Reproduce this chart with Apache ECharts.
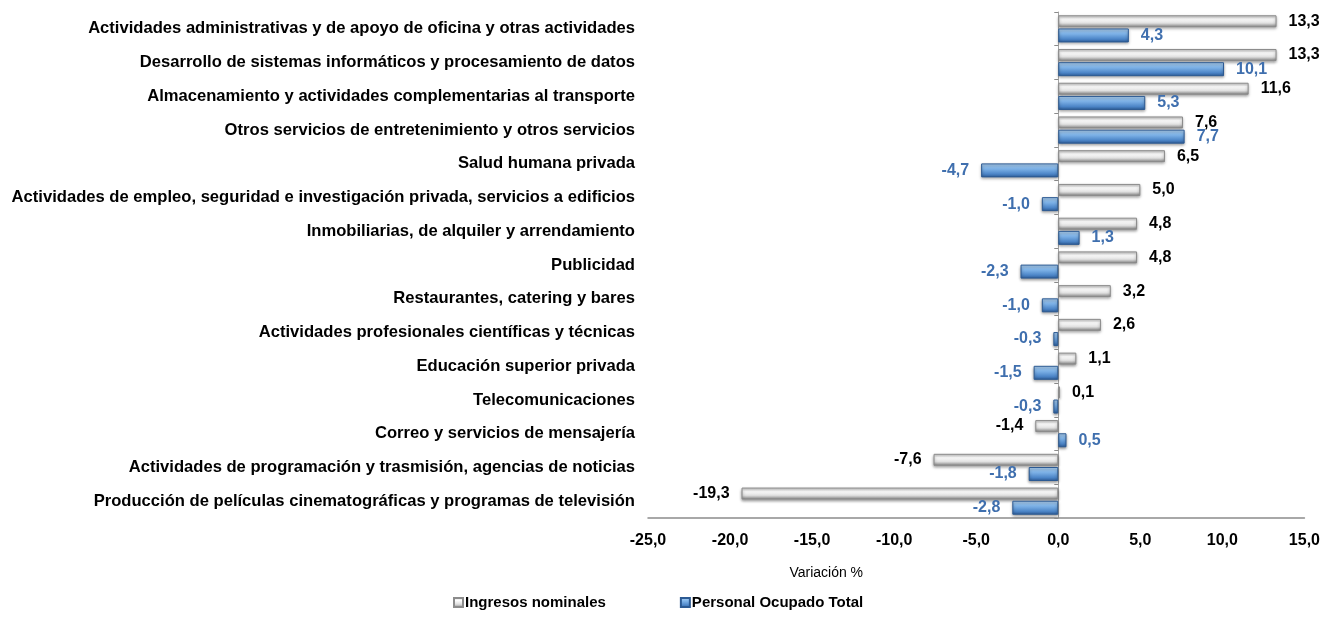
<!DOCTYPE html>
<html>
<head>
<meta charset="utf-8">
<script src="https://cdn.jsdelivr.net/npm/echarts@6/dist/echarts.min.js"></script>
<style>
  html, body { margin: 0; padding: 0; background: #fff; }
  #chart { width: 1323px; height: 620px; }
</style>
</head>
<body>
<div id="chart"></div>
<script>
// categorías de arriba hacia abajo
var categorias = [
    'Actividades administrativas y de apoyo de oficina y otras actividades',
    'Desarrollo de sistemas informáticos y procesamiento de datos',
    'Almacenamiento y actividades complementarias al transporte',
    'Otros servicios de entretenimiento y otros servicios',
    'Salud humana privada',
    'Actividades de empleo, seguridad e investigación privada, servicios a edificios',
    'Inmobiliarias, de alquiler y arrendamiento',
    'Publicidad',
    'Restaurantes, catering y bares',
    'Actividades profesionales científicas y técnicas',
    'Educación superior privada',
    'Telecomunicaciones',
    'Correo y servicios de mensajería',
    'Actividades de programación y trasmisión, agencias de noticias',
    'Producción de películas cinematográficas y programas de televisión'
];
var ingresos = [13.3, 13.3, 11.6, 7.6, 6.5, 5.0, 4.8, 4.8, 3.2, 2.6, 1.1, 0.1, -1.4, -7.6, -19.3];
var personal = [4.3, 10.1, 5.3, 7.7, -4.7, -1.0, 1.3, -2.3, -1.0, -0.3, -1.5, -0.3, 0.5, -1.8, -2.8];
var ejeMin = -25, ejeMax = 15, ejeIntervalo = 5;

function coma(v) { return v.toFixed(1).replace('.', ','); }

// cada valor con su etiqueta a la derecha o a la izquierda
function conEtiqueta(arr) {
    return arr.map(function (v) {
        return { value: v, label: { position: v < 0 ? 'left' : 'right' } };
    });
}

var fuente = 'Liberation Sans, Arial, sans-serif';

var grisBarra = new echarts.graphic.LinearGradient(0, 0, 0, 1, [
    { offset: 0, color: '#c8c8c8' },
    { offset: 0.3, color: '#ffffff' },
    { offset: 0.65, color: '#e0e0e0' },
    { offset: 1, color: '#7f7f7f' }
]);
var azulBarra = new echarts.graphic.LinearGradient(0, 0, 0, 1, [
    { offset: 0, color: '#b4d6f6' },
    { offset: 0.35, color: '#82b6ea' },
    { offset: 0.75, color: '#4d86c8' },
    { offset: 1, color: '#2d5c98' }
]);

var myChart = echarts.init(document.getElementById('chart'));
var option = {
    textStyle: { fontFamily: fuente },
    animation: false,
    grid: { left: 648, right: 18, top: 12, bottom: 102 },
    legend: {
        left: 453,
        top: 595,
        padding: 0,
        itemWidth: 9,
        itemHeight: 9,
        itemGap: 74,
        icon: 'rect',
        textStyle: { fontFamily: fuente, fontWeight: 'bold', fontSize: 15, color: '#000', padding: [0, 0, 0, -3] },
        data: ['Ingresos nominales', 'Personal Ocupado Total']
    },
    xAxis: {
        type: 'value',
        min: ejeMin,
        max: ejeMax,
        interval: ejeIntervalo,
        splitLine: { show: false },
        axisTick: { show: false },
        axisLine: { show: true, onZero: false, lineStyle: { color: '#8c8c8c', width: 1.5 } },
        axisLabel: {
            formatter: function (v) { return coma(v); },
            color: '#000', fontWeight: 'bold', fontSize: 16, margin: 15, fontFamily: fuente
        },
        name: 'Variación %',
        nameLocation: 'middle',
        nameGap: 48,
        nameTextStyle: { color: '#000', fontSize: 14, fontFamily: fuente, padding: [0, 300, 0, 0] }
    },
    yAxis: [
        {
            type: 'category',
            inverse: true,
            data: categorias,
            axisLine: { show: false, onZero: false },
            axisTick: { show: false },
            axisLabel: { color: '#000', fontWeight: 'bold', fontSize: 16.6, margin: 13, fontFamily: fuente }
        },
        {
            type: 'category',
            inverse: true,
            position: 'left',
            data: categorias,
            axisLine: { show: true, onZero: true, lineStyle: { color: '#a6a6a6', width: 1 } },
            axisTick: { show: true, length: 4, lineStyle: { color: '#8c8c8c' } },
            axisLabel: { show: false }
        }
    ],
    series: [
        {
            name: 'Ingresos nominales',
            type: 'bar',
            yAxisIndex: 0,
            barWidth: 12,
            barGap: '10%',
            data: conEtiqueta(ingresos),
            itemStyle: {
                color: grisBarra,
                borderColor: '#8c8c8c',
                borderWidth: 1,
                shadowColor: 'rgba(0,0,0,0.4)',
                shadowBlur: 3,
                shadowOffsetY: 1.5
            },
            label: {
                show: true,
                distance: 12,
                formatter: function (p) { return coma(p.value); },
                color: '#000', fontWeight: 'bold', fontSize: 16, fontFamily: fuente
            }
        },
        {
            name: 'Personal Ocupado Total',
            type: 'bar',
            yAxisIndex: 0,
            barWidth: 14,
            data: conEtiqueta(personal),
            itemStyle: {
                color: azulBarra,
                borderColor: '#2c5a93',
                borderWidth: 1,
                shadowColor: 'rgba(0,0,0,0.4)',
                shadowBlur: 3,
                shadowOffsetY: 1.5
            },
            label: {
                show: true,
                distance: 12,
                formatter: function (p) { return coma(p.value); },
                color: '#3f6fae', fontWeight: 'bold', fontSize: 16, fontFamily: fuente
            }
        }
    ]
};
myChart.setOption(option);
</script>
</body>
</html>
